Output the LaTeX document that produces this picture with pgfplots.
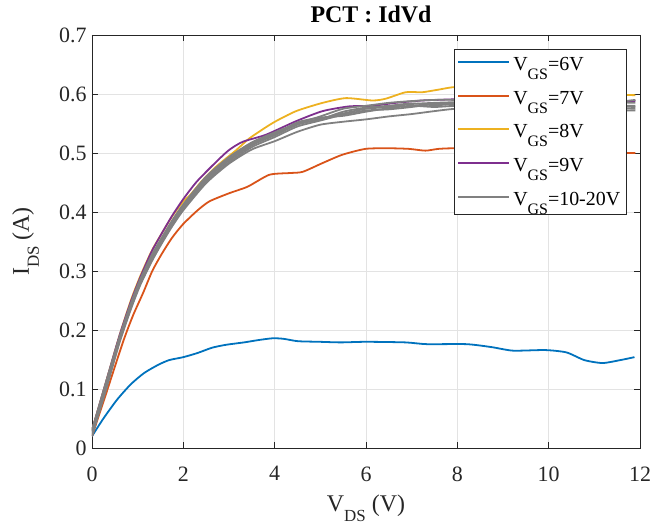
\documentclass[border=0pt]{standalone}
\usepackage{pgfplots}
\pgfplotsset{compat=1.18}
\usepackage{fontspec}
\setmainfont{Liberation Serif}
\definecolor{mblue}{rgb}{0,0.447,0.741}
\definecolor{morange}{rgb}{0.85,0.325,0.098}
\definecolor{myellow}{rgb}{0.929,0.694,0.125}
\definecolor{mpurple}{rgb}{0.494,0.184,0.556}
\definecolor{mgray}{rgb}{0.5,0.5,0.5}
\definecolor{axcol}{rgb}{0.15,0.15,0.15}
\newcommand\subl[1]{\raisebox{-10bp}{\fontsize{17}{17}\selectfont #1}}
\newcommand\subg[1]{\raisebox{-9bp}{\fontsize{16}{16}\selectfont #1}}
\begin{document}
\begin{tikzpicture}
\begin{axis}[
  scale only axis,
  width=548bp, height=413bp,
  xmin=0, xmax=12, ymin=0, ymax=0.7,
  xtick={0,2,...,12},
  ytick={0,0.1,...,0.7},
  yticklabel style={/pgf/number format/fixed,/pgf/number format/precision=1, xshift=-2bp},
  xticklabel style={yshift=-15bp},
  /pgf/number format/assume math mode=true,
  tick label style={font=\fontsize{22}{26}\selectfont, text=axcol},
  grid=major,
  major grid style={draw=black!11, line width=0.6pt},
  axis line style={draw=axcol, line width=0.8pt},
  tick style={draw=axcol, line width=0.8pt},
  major tick length=6bp,
  tick align=inside,
  title={\fontsize{24}{28}\selectfont\bfseries PCT : IdVd},
  title style={at={(rel axis cs:0.5,1)}, anchor=base, yshift=7bp, xshift=5bp},
  xlabel={\fontsize{24}{28}\selectfont V\subl{DS} (V)},
  ylabel={\fontsize{24}{28}\selectfont I\subl{DS} (A)},
  xlabel style={text=axcol, at={(rel axis cs:0.5,0)}, anchor=base, yshift=-63bp},
  ylabel style={text=axcol, at={(axis description cs:-0.115,0.5)}, anchor=base},
  legend style={at={(rel axis cs:0.6606,0.966)}, anchor=north west,
    font=\fontsize{20}{22}\selectfont, draw=axcol, line width=0.6pt,
    row sep=17bp, inner xsep=3bp, inner ysep=7bp, fill=white,
    nodes={inner xsep=3bp, inner ysep=1bp}},
  legend cell align=left,
  legend image code/.code={\draw[#1, line width=2pt] (0bp,2.5bp) -- (51bp,2.5bp);},
  every axis plot/.append style={line width=1.8pt, smooth, tension=0.4},
]
% VGS = 6V
\addplot[mblue] coordinates {
(0,0.020) (0.25,0.05) (0.55,0.082) (0.85,0.108) (1.14,0.127) (1.45,0.141) (1.69,0.149) (2.0,0.154)
(2.31,0.161) (2.63,0.170) (2.94,0.175) (3.33,0.179) (3.65,0.183) (3.96,0.186) (4.2,0.185)
(4.51,0.181) (4.98,0.180) (5.45,0.179) (6.0,0.180) (6.86,0.179) (7.33,0.176) (8.2,0.176)
(8.75,0.171) (9.22,0.165) (9.92,0.166) (10.39,0.162) (10.78,0.149) (11.18,0.144) (11.57,0.149) (11.88,0.154)};
\addlegendentry{V\subg{GS}=6V}
% VGS = 7V
\addplot[morange] coordinates {
(0,0.020) (0.3,0.09) (0.68,0.18) (0.9,0.225) (1.12,0.263) (1.32,0.3) (1.52,0.328) (1.75,0.356) (1.99,0.379) (2.3,0.402) (2.57,0.418) (3.01,0.432)
(3.41,0.443) (3.88,0.463) (4.32,0.466) (4.61,0.468) (5.05,0.483) (5.48,0.497) (5.99,0.507)
(6.5,0.508) (6.94,0.507) (7.3,0.504) (7.59,0.507) (8,0.508) (9,0.505) (10,0.503) (11,0.5) (11.9,0.5)};
\addlegendentry{V\subg{GS}=7V}
% VGS = 8V
\addplot[myellow] coordinates {
(0,0.030) (0.3,0.11) (0.6,0.19) (0.85,0.25) (1.05,0.29) (1.3,0.333) (1.5,0.36) (1.75,0.392) (2.0,0.418) (2.14,0.428) (2.4,0.452) (2.72,0.477) (3.16,0.505)
(3.45,0.525) (3.96,0.551) (4.47,0.571) (5.05,0.585) (5.56,0.593) (6.14,0.589) (6.43,0.592)
(6.87,0.603) (7.23,0.603) (7.56,0.607) (8,0.612) (9,0.61) (10,0.605) (11,0.6) (11.9,0.598)};
\addlegendentry{V\subg{GS}=8V}
% VGS = 9V
\addplot[mpurple] coordinates {
(0,0.030) (0.3,0.11) (0.6,0.19) (0.85,0.248) (1.05,0.288) (1.3,0.332) (1.5,0.36) (1.75,0.393) (2.0,0.422) (2.3,0.452) (2.72,0.485) (3.0,0.505) (3.3,0.519)
(3.81,0.531) (4.47,0.554) (5.05,0.571) (5.63,0.579) (6.14,0.580) (6.65,0.585) (7.23,0.589)
(7.56,0.590) (8,0.591) (9,0.59) (10,0.589) (11,0.588) (11.9,0.588)};
\addlegendentry{V\subg{GS}=9V}
% VGS = 10-20V
\addplot[mgray] coordinates {
(0,0.030) (0.3,0.11) (0.6,0.188) (0.85,0.245) (1.05,0.285) (1.3,0.326) (1.5,0.353) (1.75,0.385) (2,0.413) (2.5,0.46) (3,0.493) (3.5,0.518)
(4,0.535) (4.5,0.55) (5,0.562) (5.5,0.575) (6,0.58) (6.5,0.585) (7,0.588) (7.5,0.59) (8,0.59)
(9,0.589) (10,0.588) (11,0.587) (11.9,0.585)};
\addlegendentry{V\subg{GS}=10-20V}
\addplot[mgray, forget plot] coordinates {
(0,0.025) (0.3,0.1) (0.6,0.183) (0.85,0.24) (1.05,0.28) (1.3,0.32) (1.5,0.348) (1.75,0.38) (2,0.408) (2.5,0.455) (3,0.487) (3.5,0.513)
(4,0.53) (4.5,0.548) (5,0.558) (5.5,0.567) (6,0.575) (6.5,0.578) (7,0.583) (7.5,0.585) (8,0.586)
(9,0.585) (10,0.583) (11,0.581) (11.9,0.58)};
\addplot[mgray, forget plot] coordinates {
(0,0.020) (0.3,0.097) (0.6,0.178) (0.85,0.235) (1.05,0.275) (1.3,0.315) (1.5,0.343) (1.75,0.375) (2,0.403) (2.5,0.449) (3,0.482) (3.5,0.506)
(4,0.52) (4.5,0.536) (5,0.548) (5.5,0.553) (6,0.557) (6.5,0.562) (7,0.566) (7.5,0.571) (8,0.575)
(9,0.575) (10,0.574) (11,0.573) (11.9,0.572)};
\addplot[mgray, forget plot] coordinates {
(0,0.030) (0.3,0.105) (0.6,0.186) (0.85,0.243) (1.05,0.283) (1.3,0.323) (1.5,0.351) (1.75,0.383) (2,0.411) (2.5,0.458) (3,0.49) (3.5,0.516)
(4,0.532) (4.5,0.552) (5,0.56) (5.5,0.563) (6,0.57) (6.5,0.576) (7,0.58) (7.5,0.578) (8,0.58)
(9,0.579) (10,0.578) (11,0.577) (11.9,0.575)};
\addplot[mgray, forget plot] coordinates {
(0,0.025) (0.3,0.1) (0.6,0.18) (0.85,0.237) (1.05,0.277) (1.3,0.317) (1.5,0.345) (1.75,0.378) (2,0.405) (2.5,0.452) (3,0.484) (3.5,0.51)
(4,0.527) (4.5,0.545) (5,0.555) (5.5,0.565) (6,0.572) (6.5,0.574) (7,0.578) (7.5,0.583) (8,0.584)
(9,0.583) (10,0.582) (11,0.58) (11.9,0.578)};
\addplot[mgray, forget plot] coordinates {
(0,0.028) (0.3,0.103) (0.6,0.185) (0.85,0.242) (1.05,0.282) (1.3,0.322) (1.5,0.35) (1.75,0.382) (2,0.41) (2.5,0.457) (3,0.489) (3.5,0.514)
(4,0.533) (4.5,0.549) (5,0.557) (5.5,0.57) (6,0.577) (6.5,0.58) (7,0.584) (7.5,0.581) (8,0.583)
(9,0.582) (10,0.581) (11,0.583) (11.9,0.59)};
\end{axis}
\pgfresetboundingbox
\path (-92bp,-78bp) rectangle (563bp,448bp);
\end{tikzpicture}
\end{document}
